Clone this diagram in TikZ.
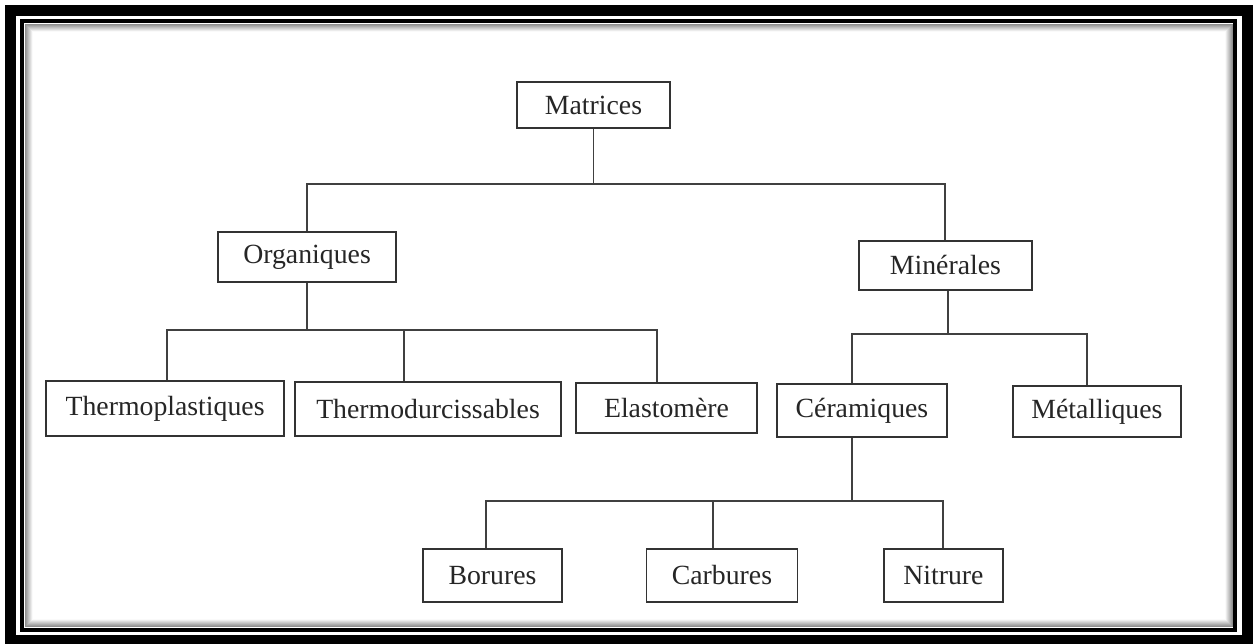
\documentclass[tikz,border=0pt]{standalone}
\usepackage{fontspec}
\setmainfont{Liberation Serif}
\tikzstyle{conn} = [line width=1.1pt, draw=black!75]
\tikzstyle{box} = [rectangle, minimum height=1.06cm, inner sep=0pt, text centered, draw=black!80, line width=1.1pt, text=black!85, font=\fontsize{15.8}{19}\selectfont]

\begin{document}
\begin{tikzpicture}[x=0.02cm, y=0.02cm, node distance=3cm]

\useasboundingbox [fill=white] (0,0) rectangle (1254,644);

% frame
\draw [line width=0.22cm] (10.5,3) rectangle (1247.5,633.5);
\draw [line width=0.08cm] (22,14) rectangle (1235,622.5);
\foreach \i [evaluate=\i as \op using 0.5-0.06*\i] in {1,...,8}
  \draw [draw opacity=\op, line width=0.02cm] (24+\i,16+\i) rectangle (1233-\i,620.5-\i);

\node (matrices) [box, minimum width=3.06cm, minimum height=0.92cm] at (593.5,539) {Matrices};

\node (organ) [box, below of=matrices, xshift=-5.73cm, yshift=-0.04cm, minimum width=3.56cm, minimum height=1cm] {Organiques};
\node (miner) [box, below of=matrices, xshift=7.04cm, yshift=-0.21cm, minimum width=3.46cm, minimum height=0.98cm] {Minérales};

\node (tplast) [box, below of=organ, xshift=-2.84cm, yshift=-0.03cm, minimum width=4.76cm, minimum height=1.1cm] {Thermoplastiques};
\node (tdur) [box, below of=organ, xshift=2.42cm, yshift=-0.04cm, minimum width=5.32cm, minimum height=1.08cm] {Thermodurcissables};
\node (elast) [box, below of=organ, xshift=7.19cm, yshift=-0.02cm, minimum width=3.62cm, minimum height=1cm] {Elastomère};

\node (ceram) [box, below of=miner, xshift=-1.67cm, yshift=0.1cm, minimum width=3.4cm] {Céramiques};
\node (metal) [box, below of=miner, xshift=3.03cm, yshift=0.08cm, minimum width=3.36cm, minimum height=1.02cm] {Métalliques};

\node (borur) [box, below of=ceram, xshift=-7.39cm, yshift=-0.3cm, minimum width=2.78cm] {Borures};
\node (carbur) [box, below of=ceram, xshift=-2.8cm, yshift=-0.3cm, minimum width=3.02cm] {Carbures};
\node (nitrur) [box, below of=ceram, xshift=1.63cm, yshift=-0.3cm, minimum width=2.38cm] {Nitrure};

\draw [conn] (matrices.south) -- ++(0,-55) coordinate (busa);
\draw [conn] (busa) -| (organ.north);
\draw [conn] (busa) -| (miner.north);

\draw [conn] (organ.south) -- ++(0,-47) coordinate (busb);
\draw [conn] (busb) -| ([xshift=0.04cm]tplast.north);
\draw [conn] (busb) -| ([xshift=-0.48cm]tdur.north);
\draw [conn] (busb) -| ([xshift=-0.19cm]elast.north);

\draw [conn] ([xshift=0.05cm]miner.south) -- ++(0,-43) coordinate (busc);
\draw [conn] (busc) -| ([xshift=-0.2cm]ceram.north);
\draw [conn] (busc) -| ([xshift=-0.2cm]metal.north);

\draw [conn] ([xshift=-0.2cm]ceram.south) -- ++(0,-63) coordinate (busd);
\draw [conn] (busd) -| ([xshift=-0.13cm]borur.north);
\draw [conn] (busd) -| ([xshift=-0.18cm]carbur.north);
\draw [conn] (busd) -| (nitrur.north);

\end{tikzpicture}
\end{document}
